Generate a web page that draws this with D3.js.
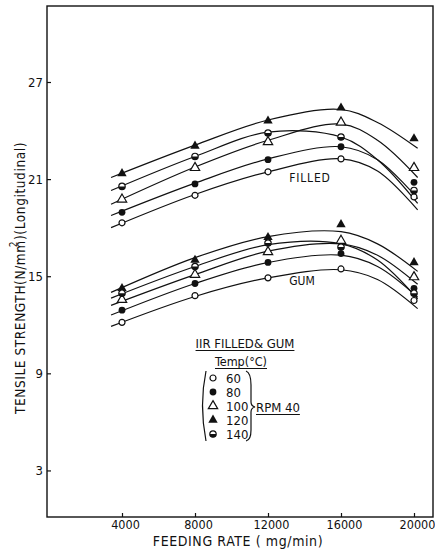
<!DOCTYPE html>
<html>
<head>
<meta charset="utf-8">
<script src="https://cdn.jsdelivr.net/npm/d3@7"></script>
<style>
  body { margin: 0; background: #fff; }
  svg { display: block; }
  text { font-family: "DejaVu Sans Condensed", "DejaVu Sans", sans-serif; font-stretch: condensed; fill: #111; }
</style>
</head>
<body>
<div id="chart"></div>
<script>
// feeding rates (mg/min) where measurements were taken
var feedRates = [4000, 8000, 12000, 16000, 20000];
var temps = [60, 80, 100, 120, 140];
var xTicks = [4000, 8000, 12000, 16000, 20000];
var yTicks = [3, 9, 15, 21, 27];

// measured tensile strength, one row per temperature (60, 80, 100, 120, 140)
var filledPoints = [
    [18.3, 20.0, 21.45, 22.25, 19.9],
    [18.95, 20.7, 22.2, 23.0, 20.8],
    [19.75, 21.7, 23.3, 24.5, 21.7],
    [21.35, 23.05, 24.6, 25.4, 23.5],
    [20.55, 22.4, 23.85, 23.6, 20.3]
];
var gumPoints = [
    [12.15, 13.8, 14.9, 15.45, 13.5],
    [12.9, 14.55, 15.85, 16.4, 14.25],
    [13.55, 15.1, 16.5, 17.2, 14.95],
    [14.25, 16.0, 17.4, 18.2, 15.85],
    [13.95, 15.6, 17.05, 16.8, 13.95]
];

// hand drawn fitted curves at these feeding rates
var fitRates = [3400, 8000, 12000, 16000, 18000, 20200];
var filledFit = [
    [18.0, 20.05, 21.45, 22.25, 21.5, 19.1],
    [18.75, 20.75, 22.25, 23.0, 22.2, 19.8],
    [19.45, 21.75, 23.4, 24.4, 23.4, 21.1],
    [21.1, 23.1, 24.65, 25.3, 24.5, 22.9],
    [20.3, 22.4, 23.9, 23.6, 22.2, 19.5]
];
var gumFit = [
    [11.9, 13.75, 14.9, 15.4, 14.8, 13.0],
    [12.6, 14.55, 15.85, 16.3, 15.6, 13.7],
    [13.2, 15.1, 16.55, 17.0, 16.3, 14.5],
    [14.0, 16.15, 17.45, 17.75, 17.0, 15.3],
    [13.65, 15.6, 16.95, 17.0, 16.0, 13.6]
];

var W = 435, H = 552;
var frame = {left: 47, right: 433, top: 6, bottom: 517};

var svg = d3.select("#chart").append("svg")
    .attr("width", W)
    .attr("height", H);

var xScale = d3.scaleLinear().domain([0, 20000]).range([49, 414]);
var yScale = d3.scaleLinear().domain([0, 27]).range([519, 82]);

// frame
var ink = "#111";
svg.append("rect")
    .attr("x", frame.left)
    .attr("y", frame.top)
    .attr("width", frame.right - frame.left)
    .attr("height", frame.bottom - frame.top)
    .attr("fill", "none")
    .attr("stroke", ink)
    .attr("stroke-width", 1.4);

var yAxis = d3.axisLeft(yScale).tickValues(yTicks).tickSize(-4).tickPadding(4);
var gY = svg.append("g")
    .attr("transform", "translate(" + frame.left + ",0)")
    .call(yAxis);
gY.select(".domain").remove();
gY.selectAll("line").attr("stroke", ink).attr("stroke-width", 1.2);
gY.selectAll("text").style("font-size", "13px").attr("fill", ink);

var xAxis = d3.axisBottom(xScale).tickValues(xTicks).tickSize(-4).tickPadding(3)
    .tickFormat(function(d) { return d; });
var gX = svg.append("g")
    .attr("transform", "translate(0," + frame.bottom + ")")
    .call(xAxis);
gX.select(".domain").remove();
gX.selectAll("line").attr("stroke", ink).attr("stroke-width", 1.2);
gX.selectAll("text").style("font-size", "12.5px").attr("dx", 3).attr("fill", ink);

// axis titles
svg.append("text")
    .attr("x", 238)
    .attr("y", 546)
    .attr("text-anchor", "middle")
    .style("font-size", "14px")
    .style("letter-spacing", "0.6px")
    .text("FEEDING RATE ( mg/min)");

var yTitle = svg.append("text")
    .attr("transform", "translate(25,278) rotate(-90)")
    .attr("text-anchor", "middle")
    .style("font-size", "13.5px")
    .style("letter-spacing", "0.6px");
yTitle.append("tspan").text("TENSILE  STRENGTH(N/mm");
yTitle.append("tspan").attr("dy", -8).attr("dx", -7).style("font-size", "10px").text("2");
yTitle.append("tspan").attr("dy", 8).attr("dx", 1).text(")(Longitudinal)");

// curves
var line = d3.line()
    .x(function(d) { return xScale(d[0]); })
    .y(function(d) { return yScale(d[1]); })
    .curve(d3.curveCatmullRom.alpha(0.5));

function drawFits(fits) {
    fits.forEach(function(row) {
        var pts = fitRates.map(function(r, i) { return [r, row[i]]; });
        svg.append("path")
            .datum(pts)
            .attr("fill", "none")
            .attr("stroke", ink)
            .attr("stroke-width", 1.2)
            .attr("d", line);
    });
}
drawFits(filledFit);
drawFits(gumFit);

// markers
var tri = d3.symbol().type(d3.symbolTriangle).size(38);

function marker(g, t) {
    if (t === 60) {
        g.append("circle").attr("r", 3).attr("fill", "#fff").attr("stroke", ink).attr("stroke-width", 1.2);
    } else if (t === 80) {
        g.append("circle").attr("r", 3.4).attr("fill", ink);
    } else if (t === 100) {
        g.append("path").attr("d", tri()).attr("fill", "#fff").attr("stroke", ink).attr("stroke-width", 1.2);
    } else if (t === 120) {
        g.append("path").attr("d", tri()).attr("fill", ink);
    } else {
        g.append("circle").attr("r", 3.2).attr("fill", "#fff").attr("stroke", ink).attr("stroke-width", 1.2);
        g.append("path").attr("d", "M-3.2,0A3.2,3.2 0 0 0 3.2,0Z").attr("fill", ink);
    }
}

function drawPoints(rows) {
    rows.forEach(function(row, k) {
        row.forEach(function(v, i) {
            var g = svg.append("g")
                .attr("transform", "translate(" + xScale(feedRates[i]) + "," + yScale(v) + ")");
            marker(g, temps[k]);
        });
    });
}
drawPoints(filledPoints);
drawPoints(gumPoints);

// group labels
svg.append("text").attr("x", 310).attr("y", 182).attr("text-anchor", "middle")
    .style("font-size", "12px").style("letter-spacing", "0.8px").text("FILLED");
svg.append("text").attr("x", 302).attr("y", 285).attr("text-anchor", "middle")
    .style("font-size", "12px").text("GUM");

// legend
function underlined(x, y, size, str) {
    var t = svg.append("text").attr("x", x).attr("y", y).attr("text-anchor", "middle")
        .style("font-size", size + "px").text(str);
    var w = t.node().getComputedTextLength();
    svg.append("line")
        .attr("x1", x - w / 2).attr("x2", x + w / 2)
        .attr("y1", y + 2.5).attr("y2", y + 2.5)
        .attr("stroke", ink).attr("stroke-width", 1);
    return t;
}
underlined(245, 348, 13, "IIR FILLED& GUM");
underlined(241, 366, 12.5, "Temp(\u00B0C)");

var legendY = d3.scalePoint().domain(temps).range([378, 434]);
temps.forEach(function(t) {
    var g = svg.append("g").attr("transform", "translate(213," + legendY(t) + ")");
    marker(g, t);
    svg.append("text")
        .attr("x", 226)
        .attr("y", legendY(t) + 5)
        .style("font-size", "13px")
        .text(t);
});

svg.append("path")
    .attr("d", "M206,371 Q199,405 206,441")
    .attr("fill", "none").attr("stroke", ink).attr("stroke-width", 1.2);
svg.append("path")
    .attr("d", "M246,371 Q251,373 251,385 L251,402 Q251,406 255,407 Q251,408 251,412 L251,430 Q251,440 246,441")
    .attr("fill", "none").attr("stroke", ink).attr("stroke-width", 1.2);

var rpm = svg.append("text").attr("x", 256).attr("y", 412)
    .style("font-size", "13px").text("RPM 40");
var rw = rpm.node().getComputedTextLength();
svg.append("line").attr("x1", 256).attr("x2", 256 + rw)
    .attr("y1", 414.5).attr("y2", 414.5).attr("stroke", ink).attr("stroke-width", 1);
</script>
</body>
</html>
